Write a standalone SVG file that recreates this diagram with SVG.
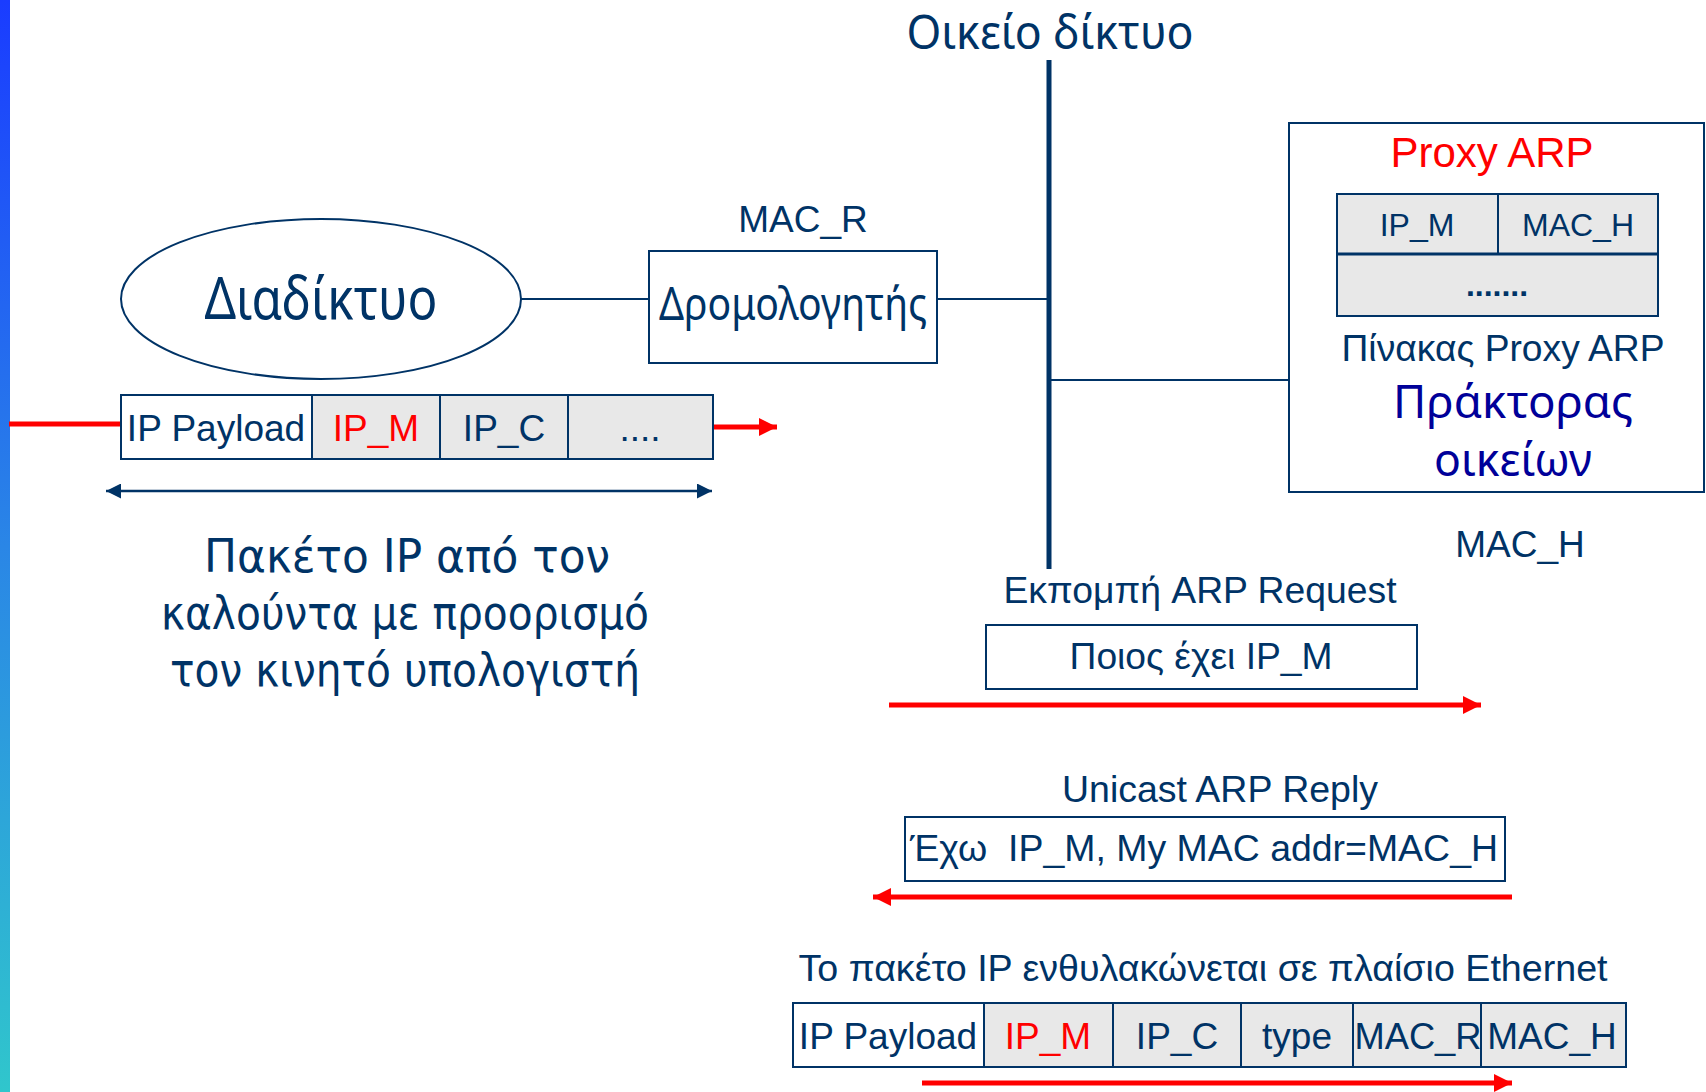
<svg xmlns="http://www.w3.org/2000/svg" width="1706" height="1092" viewBox="0 0 1706 1092">
<style>
.ln{stroke:#003366;stroke-width:2;fill:none}
.box{stroke:#003366;stroke-width:2;fill:#ffffff}
.cell{stroke:#003366;stroke-width:2;fill:#e8e8e8}
.a{font-family:"Liberation Sans",Arial,sans-serif;fill:#003366;text-anchor:middle}
.c{font-family:"Noto Sans","DejaVu Sans",sans-serif;fill:#003366;text-anchor:middle}
.d{font-family:"DejaVu Sans","Noto Sans",sans-serif;fill:#003366;text-anchor:middle}
.red{fill:#ff0000}
.rl{stroke:#ff0000;stroke-width:5;fill:none}
</style>
<defs>
<linearGradient id="bar" x1="0" y1="0" x2="0" y2="1">
<stop offset="0" stop-color="#1a3cff"/>
<stop offset="0.5" stop-color="#2a86e6"/>
<stop offset="1" stop-color="#30c6cc"/>
</linearGradient>
<marker id="rh" markerUnits="userSpaceOnUse" markerWidth="18" markerHeight="18" refX="18" refY="9" orient="auto">
<path d="M0,0 L18,9 L0,18 z" fill="#ff0000"/>
</marker>
<marker id="nh" markerUnits="userSpaceOnUse" markerWidth="15" markerHeight="15" refX="15" refY="7.5" orient="auto-start-reverse">
<path d="M0,0 L15,7.5 L0,15 z" fill="#003366"/>
</marker>
</defs>
<rect x="0" y="0" width="10" height="1092" fill="url(#bar)"/>

<g id="connectors">
<line class="ln" x1="521" y1="299" x2="649" y2="299"/>
<line class="ln" x1="937" y1="299" x2="1049" y2="299"/>
<line class="ln" x1="1049" y1="380" x2="1289" y2="380"/>
<line x1="1049" y1="60" x2="1049" y2="569" stroke="#003366" stroke-width="5"/>
<line class="rl" x1="9" y1="424" x2="121" y2="424"/>
<line class="rl" x1="713" y1="427" x2="777" y2="427" marker-end="url(#rh)"/>
<line x1="106" y1="491" x2="712" y2="491" stroke="#003366" stroke-width="2.5" marker-start="url(#nh)" marker-end="url(#nh)"/>
<line class="rl" x1="889" y1="705" x2="1481" y2="705" marker-end="url(#rh)"/>
<line class="rl" x1="1512" y1="897" x2="873" y2="897" marker-end="url(#rh)"/>
<line class="rl" x1="922" y1="1083" x2="1512" y2="1083" marker-end="url(#rh)"/>
</g>

<g id="title">
<text class="c" x="1050" y="49" font-size="48" textLength="287" lengthAdjust="spacingAndGlyphs">Οικείο δίκτυο</text>
</g>

<g id="internet">
<ellipse class="box" cx="321" cy="299" rx="200" ry="80"/>
<text class="c" x="321" y="319" font-size="58" textLength="233" lengthAdjust="spacingAndGlyphs">Διαδίκτυο</text>
</g>

<g id="router">
<text class="a" x="803" y="232" font-size="37">MAC_R</text>
<rect class="box" x="649" y="251" width="288" height="112"/>
<text class="c" x="793" y="320" font-size="46" textLength="268" lengthAdjust="spacingAndGlyphs">Δρομολογητής</text>
</g>

<g id="proxy">
<rect class="box" x="1289" y="123" width="415" height="369"/>
<text class="a red" x="1492" y="167" font-size="42">Proxy ARP</text>
<rect class="cell" x="1337" y="194" width="161" height="60"/>
<rect class="cell" x="1498" y="194" width="160" height="60"/>
<rect class="cell" x="1337" y="254" width="321" height="62"/>
<line x1="1337" y1="254" x2="1658" y2="254" stroke="#003366" stroke-width="3"/>
<text class="a" x="1417" y="236" font-size="32">IP_M</text>
<text class="a" x="1578" y="236" font-size="32">MAC_H</text>
<text class="a" x="1497" y="296" font-size="32" font-weight="bold">.......</text>
<text class="a" x="1503" y="361" font-size="36" textLength="323" lengthAdjust="spacingAndGlyphs">Πίνακας Proxy ARP</text>
<text class="c" x="1513" y="418" font-size="46" style="fill:#000099" textLength="240" lengthAdjust="spacingAndGlyphs">Πράκτορας</text>
<text class="c" x="1513" y="476" font-size="46" style="fill:#000099" textLength="158" lengthAdjust="spacingAndGlyphs">οικείων</text>
<text class="a" x="1520" y="557" font-size="37">MAC_H</text>
</g>

<g id="packet1">
<rect class="box" x="121" y="395" width="191" height="64"/>
<rect class="cell" x="312" y="395" width="128" height="64"/>
<rect class="cell" x="440" y="395" width="128" height="64"/>
<rect class="cell" x="568" y="395" width="145" height="64"/>
<text class="a" x="216" y="441" font-size="37">IP Payload</text>
<text class="a red" x="376" y="441" font-size="37">IP_M</text>
<text class="a" x="504" y="441" font-size="37">IP_C</text>
<text class="a" x="640" y="441" font-size="37">....</text>
</g>

<g id="packet-caption">
<text class="d" x="407" y="572" font-size="46" textLength="406" lengthAdjust="spacingAndGlyphs">Πακέτο IP από τον</text>
<text class="d" x="405" y="629" font-size="46" textLength="488" lengthAdjust="spacingAndGlyphs">καλούντα με προορισμό</text>
<text class="d" x="405" y="686" font-size="46" textLength="470" lengthAdjust="spacingAndGlyphs">τον κινητό υπολογιστή</text>
</g>

<g id="arp-request">
<text class="a" x="1200" y="603" font-size="37" textLength="393" lengthAdjust="spacingAndGlyphs">Εκπομπή ARP Request</text>
<rect class="box" x="986" y="625" width="431" height="64"/>
<text class="a" x="1201" y="669" font-size="37" textLength="263" lengthAdjust="spacingAndGlyphs">Ποιος έχει IP_M</text>
</g>

<g id="arp-reply">
<text class="a" x="1220" y="802" font-size="37" textLength="316" lengthAdjust="spacingAndGlyphs">Unicast ARP Reply</text>
<rect class="box" x="905" y="817" width="600" height="64"/>
<text class="a" x="1204" y="861" font-size="37" xml:space="preserve" textLength="588" lengthAdjust="spacingAndGlyphs">Έχω  IP_M, My MAC addr=MAC_H</text>
</g>

<g id="ethernet-frame">
<text class="a" x="1203" y="981" font-size="37" textLength="809" lengthAdjust="spacingAndGlyphs">Το πακέτο IP ενθυλακώνεται σε πλαίσιο Ethernet</text>
<rect class="box" x="793" y="1003" width="191" height="64"/>
<rect class="cell" x="984" y="1003" width="129" height="64"/>
<rect class="cell" x="1113" y="1003" width="128" height="64"/>
<rect class="cell" x="1241" y="1003" width="112" height="64"/>
<rect class="cell" x="1353" y="1003" width="128" height="64"/>
<rect class="cell" x="1481" y="1003" width="145" height="64"/>
<text class="a" x="888" y="1049" font-size="37">IP Payload</text>
<text class="a red" x="1048" y="1049" font-size="37">IP_M</text>
<text class="a" x="1177" y="1049" font-size="37">IP_C</text>
<text class="a" x="1297" y="1049" font-size="37">type</text>
<text class="a" x="1418" y="1049" font-size="37" textLength="127" lengthAdjust="spacingAndGlyphs">MAC_R</text>
<text class="a" x="1552" y="1049" font-size="37">MAC_H</text>
</g>
</svg>
